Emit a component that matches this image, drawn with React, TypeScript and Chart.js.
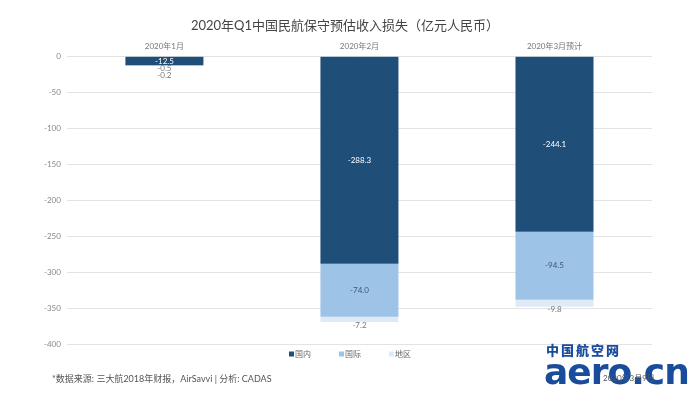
import React, { useEffect, useRef } from "react";
import { Chart, registerables } from "chart.js";

Chart.register(...registerables);

const categories = ["2020年1月", "2020年2月", "2020年3月预计"];
const domestic = [-12.5, -288.3, -244.1];
const international = [-0.5, -74.0, -94.5];
const regional = [-0.2, -7.2, -9.8];
const seriesNames = ["国内", "国际", "地区"];
const colors = ["#1f4e79", "#9dc3e6", "#deebf7"];
const labelColors = ["#ffffff", "#3b5a7a", "#666666"];

const FONT = "Lato, 'Noto Sans CJK SC', sans-serif";

const labelPlugin = {
  id: "barLabels",
  afterDatasetsDraw(chart: any) {
    const ctx = chart.ctx;
    ctx.save();
    ctx.font = `8px ${FONT}`;
    ctx.textAlign = "center";
    const n = chart.data.labels.length;
    for (let i = 0; i < n; i++) {
      let stackBottom = 0;
      let cx = 0;
      chart.data.datasets.forEach((ds: any, di: number) => {
        const el = chart.getDatasetMeta(di).data[i];
        if (!el) return;
        cx = el.x;
        stackBottom = Math.max(stackBottom, el.y, el.base);
      });
      let below = 0;
      chart.data.datasets.forEach((ds: any, di: number) => {
        const el = chart.getDatasetMeta(di).data[i];
        const v = ds.data[i];
        const h = Math.abs(el.y - el.base);
        const txt = v.toFixed(1);
        if (h >= 8) {
          ctx.fillStyle = labelColors[di];
          ctx.textBaseline = "middle";
          ctx.fillText(txt, el.x, (el.y + el.base) / 2);
        } else {
          ctx.fillStyle = "#777777";
          ctx.textBaseline = "top";
          ctx.fillText(txt, cx, stackBottom - 1 + below * 7);
          below++;
        }
      });
    }
    // legend
    const area = chart.chartArea;
    const ly = area.bottom + 10;
    const spacing = 50;
    const startX = chart.width / 2 - spacing - 11;
    ctx.font = `8px ${FONT}`;
    ctx.textAlign = "left";
    ctx.textBaseline = "middle";
    chart.data.datasets.forEach((ds: any, di: number) => {
      const x = startX + di * spacing;
      ctx.fillStyle = colors[di];
      ctx.fillRect(x, ly - 2.5, 5, 5);
      ctx.fillStyle = "#666666";
      ctx.fillText(ds.label, x + 6, ly);
    });
    ctx.restore();
  },
};

export default function App() {
  const ref = useRef<HTMLCanvasElement>(null);
  useEffect(() => {
    document.body.style.margin = "0";
    const chart = new Chart(ref.current!, {
      type: "bar",
      data: {
        labels: categories,
        datasets: [domestic, international, regional].map((d, i) => ({
          label: seriesNames[i],
          data: d,
          backgroundColor: colors[i],
          borderWidth: 0,
          barPercentage: 0.4,
          categoryPercentage: 1,
        })),
      },
      options: {
        animation: false,
        responsive: false,
        layout: { padding: { left: 38, right: 48, top: 0, bottom: 49 } },
        plugins: {
          title: {
            display: true,
            text: "2020年Q1中国民航保守预估收入损失（亿元人民币）",
            color: "#444444",
            font: { family: FONT, size: 13, weight: "normal" },
            padding: { top: 18, bottom: 3 },
          },
          legend: { display: false },
          tooltip: { enabled: false },
        },
        scales: {
          x: {
            position: "top",
            stacked: true,
            grid: { display: false, drawTicks: false },
            border: { display: false },
            ticks: { color: "#777777", font: { family: FONT, size: 8 }, padding: 5 },
          },
          y: {
            stacked: true,
            min: -400,
            max: 0,
            ticks: { stepSize: 50, color: "#888888", font: { family: FONT, size: 8 }, padding: 6 },
            grid: { color: "#e3e3e3", drawTicks: false },
            border: { display: false },
          },
        },
      },
      plugins: [labelPlugin],
    });
    return () => chart.destroy();
  }, []);
  return (
    <div style={{ position: "relative", width: 700, height: 393, background: "#fff", fontFamily: FONT, overflow: "hidden" }}>
      <canvas ref={ref} width={700} height={393} />
      <div style={{ position: "absolute", left: 52, top: 372, fontSize: 9, color: "#555" }}>
        *数据来源: 三大航2018年财报，AirSavvi | 分析: CADAS
      </div>
      <div style={{ position: "absolute", left: 546, top: 342, fontSize: 13, lineHeight: "16px", fontWeight: 900, color: "#1a4c9c", letterSpacing: 2, fontFamily: "'Noto Sans CJK SC'" }}>
        中国航空网
      </div>
      <div style={{ position: "absolute", left: 544, top: 352, fontSize: 36, fontWeight: 900, color: "#1a4c9c", fontFamily: "'DejaVu Sans', sans-serif", letterSpacing: -1, lineHeight: "40px" }}>
        aero.cn
      </div>
      <div style={{ position: "absolute", left: 603, top: 372, fontSize: 8, color: "#555" }}>
        2020年3月9日
      </div>
    </div>
  );
}
